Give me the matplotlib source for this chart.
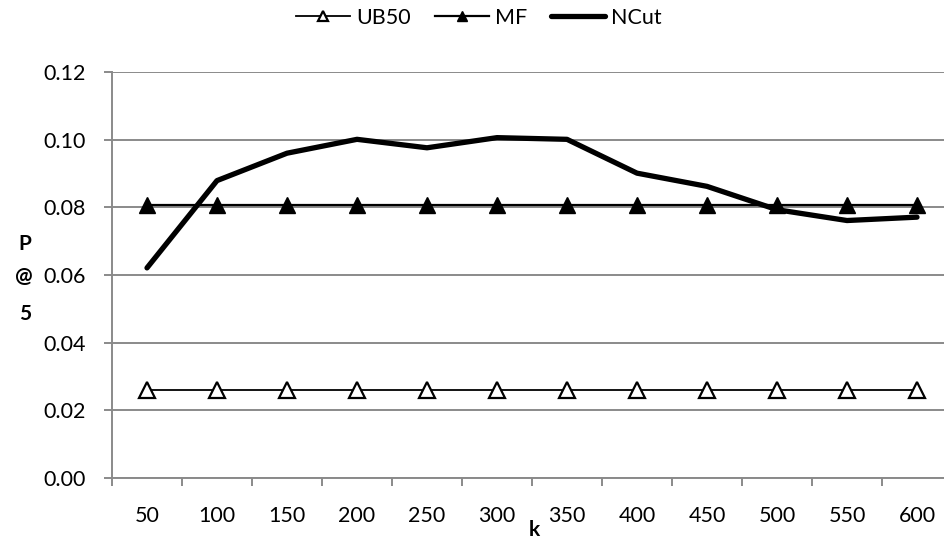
import matplotlib
matplotlib.use("Agg")
import matplotlib.pyplot as plt
import numpy as np

categories = ["50", "100", "150", "200", "250", "300", "350", "400", "450", "500", "550", "600"]
ub50 = [0.026] * 12
mf = [0.0807] * 12
ncut = [0.0621, 0.0879, 0.0960, 0.1001, 0.0976, 0.1006, 0.1001, 0.0901, 0.0862, 0.0793, 0.0761, 0.0771]
y_ticks = [0.00, 0.02, 0.04, 0.06, 0.08, 0.10, 0.12]

plt.rcParams['font.family'] = ['Lato', 'DejaVu Sans']
W, H = 945, 542
fig = plt.figure(figsize=(W / 100, H / 100), dpi=100)
ax = fig.add_axes([112 / W, (H - 478) / H, 840 / W, 406 / H])

x = np.arange(len(categories))
grid_c = "#8a8a8a"
ax.plot(x, ub50, color="black", lw=1.3, marker="^", ms=11, mfc="white", mec="black", mew=1.6, label="UB50", zorder=3)
ax.plot(x, mf, color="black", lw=1.6, marker="^", ms=11, mfc="black", mec="black", label="MF", zorder=3)
ax.plot(x, ncut, color="black", lw=3.8, solid_joinstyle="round", solid_capstyle="round", label="NCut", zorder=4)

ax.set_xlim(-0.5, len(categories) - 0.5)
ax.set_ylim(0, 0.12)
ax.set_yticks(y_ticks)
ax.set_yticklabels([f"{v:.2f}" for v in y_ticks])
ax.yaxis.grid(True, color=grid_c, lw=1.4)
ax.set_axisbelow(True)

ax.set_xticks(np.arange(-0.5, len(categories), 1.0))
ax.set_xticklabels([])
ax.set_xticks(x, minor=True)
ax.set_xticklabels(categories, minor=True)
ax.tick_params(axis="x", which="major", direction="out", length=6, width=1.4, color=grid_c)
ax.tick_params(axis="x", which="minor", length=0, pad=20, labelsize=15.5)
ax.tick_params(axis="y", direction="out", length=6, width=1.4, color=grid_c, labelsize=15.5, pad=13)

for s in ["top", "right"]:
    ax.spines[s].set_visible(False)
for s in ["left", "bottom"]:
    ax.spines[s].set_color(grid_c)
    ax.spines[s].set_linewidth(1.4)

fig.text(534 / W, 2 / H, "k", ha="center", va="bottom", fontsize=15, fontweight="bold")
for ch, xx, yy in [("P", 24.5, 244.5), ("@", 24, 276), ("5", 25, 314.5)]:
    fig.text(xx / W, 1 - yy / H, ch, ha="center", va="center", fontsize=15, fontweight="bold")

fig.legend(loc="center", bbox_to_anchor=(479 / W, 1 - 18 / H), ncol=3, frameon=False,
           fontsize=15.5, handlelength=2.5, handletextpad=0.3, columnspacing=1.1, markerscale=0.7)

fig.savefig("out.png", dpi=100)
